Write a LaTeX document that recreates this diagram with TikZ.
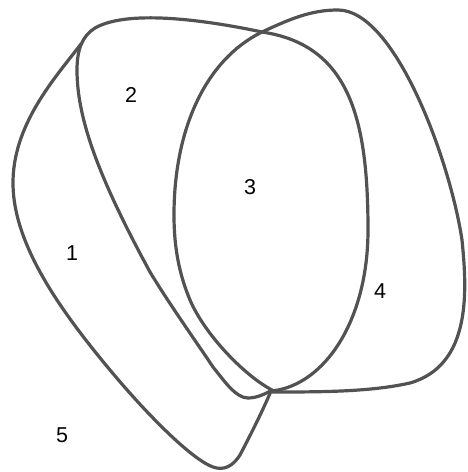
\documentclass[tikz,border=0pt]{standalone}
\usepackage{fontspec}
\setmainfont{Liberation Sans}
\usepackage{xcolor}
\usepackage{tikz}
\definecolor{linegray}{HTML}{525252}

\begin{document}
\begin{tikzpicture}[x=1pt, y=-1pt,
        outline/.style={draw=linegray, line width=3.2pt, line cap=round, line join=round},
        region/.style={font=\fontsize{21.5}{25}\selectfont, text=black, inner sep=0pt}]
                \useasboundingbox (0,0) rectangle (467,472);

                % set 2 together with the right half of set 3
                \draw[outline] (272,390) .. controls (265,394) and (257,398) .. (248,398)
                        .. controls (236,398) and (225,382) .. (213,367)
                        .. controls (195,340) and (170,305) .. (150,272)
                        .. controls (100,180) and (77,120) .. (77,70)
                        .. controls (77,50) and (82,36) .. (95,28)
                        .. controls (130,8) and (215,22) .. (262,32)
                        .. controls (350,45) and (368,120) .. (368,230)
                        .. controls (368,320) and (325,385) .. (272,391);

                % left half of set 3 together with set 4
                \draw[outline] (272,390) .. controls (245,376) and (205,335) .. (190,300)
                        .. controls (180,276) and (174,250) .. (174,215)
                        .. controls (174,130) and (205,60) .. (262,32)
                        .. controls (292,18) and (312,10) .. (338,10)
                        .. controls (395,10) and (450,160) .. (462,240)
                        .. controls (467,290) and (472,365) .. (410,383)
                        .. controls (370,392) and (320,392) .. (272,392);

                % set 1
                \draw[outline] (81,44) .. controls (55,78) and (12,125) .. (13,185)
                        .. controls (14,245) and (60,310) .. (110,370)
                        .. controls (150,418) and (193,460) .. (213,467)
                        .. controls (224,471) and (233,466) .. (240,455)
                        .. controls (252,432) and (263,410) .. (271,391);

                \node[region] (r1) at (72,253) {1};
                \node[region] (r2) at (131,95) {2};
                \node[region] (r3) at (250,187) {3};
                \node[region] (r4) at (380,291) {4};
                \node[region] (r5) at (62,435) {5};
\end{tikzpicture}
\end{document}
